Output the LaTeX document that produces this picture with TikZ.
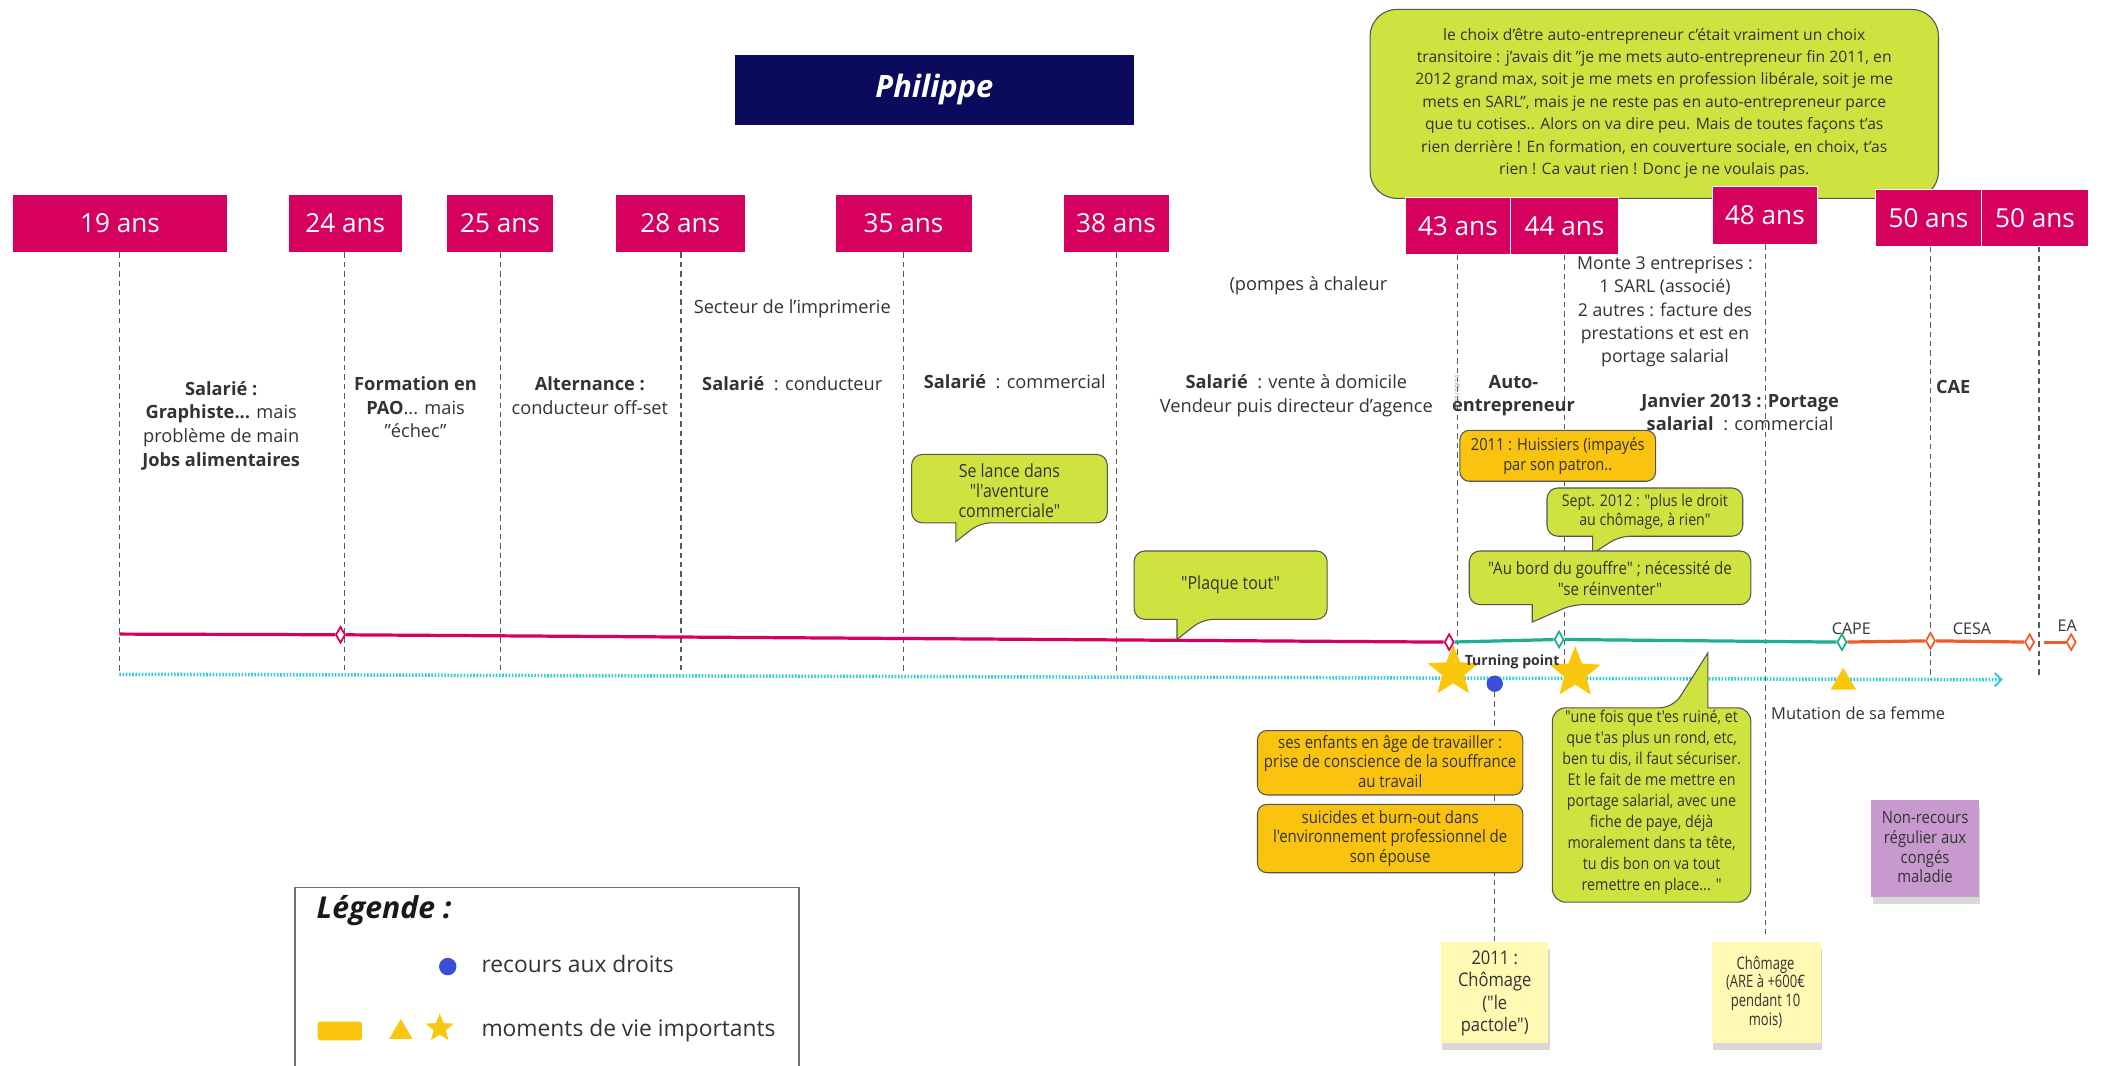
\documentclass[tikz,border=0pt]{standalone}
\usepackage{fontspec}
\setmainfont{Open Sans}
\newfontfamily\condA[FakeStretch=0.88]{Open Sans}
\newfontfamily\condB[FakeStretch=0.76]{Open Sans}
\usetikzlibrary{shapes.geometric,arrows.meta,shadows}
\definecolor{mag}{HTML}{D6005F}
\definecolor{navy}{HTML}{0B0B5E}
\definecolor{lime}{HTML}{CEE33F}
\definecolor{ambre}{HTML}{F9C310}
\definecolor{tealc}{HTML}{1DAF91}
\definecolor{redo}{HTML}{F25A2B}
\definecolor{cyanc}{HTML}{33CCD6}
\definecolor{stary}{HTML}{F9C80E}
\definecolor{bluec}{HTML}{3A4FD9}
\definecolor{postit}{HTML}{FFF9B3}
\definecolor{purp}{HTML}{C899CF}
\definecolor{txt}{HTML}{333333}
\definecolor{bord}{HTML}{555555}
\newcommand\callB[8]{% x1 y1 x2 y2 (y2 bottom) bL bR ax ay
  \filldraw[callout] (#7,#8) -- (#5,#4) -- (#5-1,#4) [rounded corners=8pt] -- (#1,#4) -- (#1,#2) -- (#3,#2) -- (#3,#4) -- (#6,#4) [sharp corners] -- cycle;}
\newcommand\callT[8]{% x1 y1 (top) x2 y2 bL bR ax ay
  \filldraw[callout] (#7,#8) -- (#6,#2) -- (#6+1,#2) [rounded corners=10pt] -- (#3,#2) -- (#3,#4) -- (#1,#4) -- (#1,#2) -- (#5,#2) [sharp corners] -- cycle;}
\begin{document}
\begin{tikzpicture}[x=1pt,y=-1pt,
  agebox/.style={fill=mag, draw=white, line width=0.6pt, text=white, minimum height=43pt, inner sep=0pt, font=\fontsize{19.5}{21}\selectfont},
  vline/.style={draw=black!65, line width=0.8pt, dash pattern=on 4pt off 3pt},
  lab/.style={text=txt, align=center, inner sep=0pt, font=\fontsize{13.6}{17.6}\selectfont},
  callout/.style={fill=lime, draw=bord, line width=0.8pt},
  ctext/.style={text=txt, align=center, inner sep=0pt},
  obox/.style={fill=ambre, draw=bord, line width=0.8pt, rounded corners=7pt},
  dia/.style={diamond, draw=#1, fill=white, line width=1.2pt, minimum width=7pt, minimum height=12pt, inner sep=0pt},
  tline/.style={line width=2.4pt, draw=#1},
  note/.style={draw=none, inner sep=0pt, drop shadow={shadow xshift=1pt, shadow yshift=-5pt, opacity=0.3}},
  staryel/.style={star, star points=5, star point ratio=2.3, fill=stary, inner sep=0pt},
  tri/.style={regular polygon, regular polygon sides=3, fill=stary, inner sep=0pt}
]
\clip (0,0) rectangle (1568,795);
\fill[white] (0,0) rectangle (1568,795);

% title
\node[fill=navy, minimum width=298pt, minimum height=52pt, inner sep=0pt, text=white, font=\fontsize{23}{26}\selectfont\bfseries\itshape] (title) at (697,67) {Philippe};

% top quote
\filldraw[callout, rounded corners=20pt] (1022,7) rectangle (1446,148);
\node[ctext, font=\fontsize{11.7}{16.7}\selectfont] (topq) at (1234,77) {le choix d'être auto-entrepreneur c'était vraiment un choix\\transitoire : j'avais dit "je me mets auto-entrepreneur fin 2011, en\\2012 grand max, soit je me mets en profession libérale, soit je me\\mets en SARL", mais je ne reste pas en auto-entrepreneur parce\\que tu cotises.. Alors on va dire peu. Mais de toutes façons t'as\\rien derrière ! En formation, en couverture sociale, en choix, t'as\\rien ! Ca vaut rien ! Donc je ne voulais pas.};

% age boxes
\node[agebox, minimum width=161pt] (a19) at (89.5,166.5) {19 ans};
\node[agebox, minimum width=85pt] (a24) at (257.5,166.5) {24 ans};
\node[agebox, minimum width=80pt] (a25) at (373,166.5) {25 ans};
\node[agebox, minimum width=97pt] (a28) at (507.5,166.5) {28 ans};
\node[agebox, minimum width=102pt] (a35) at (674,166.5) {35 ans};
\node[agebox, minimum width=79pt] (a38) at (832.5,166.5) {38 ans};
\node[agebox, minimum width=79pt] (a43) at (1087.5,168.5) {43 ans};
\node[agebox, minimum width=80pt] (a44) at (1167,168.5) {44 ans};
\node[agebox, minimum width=79pt] (a48) at (1316.5,160.5) {48 ans};
\node[agebox, minimum width=79pt] (a50) at (1438.5,162.5) {50 ans};
\node[agebox, minimum width=80pt] (a50b) at (1518,162.5) {50 ans};

% vertical dashed lines
\coordinate (e19) at (89,503);
\coordinate (e24) at (257,500);
\coordinate (e25) at (373,500);
\coordinate (e28) at (508,500);
\coordinate (e35) at (674,501);
\coordinate (e38) at (833,501);
\coordinate (e43) at (1087,510);
\coordinate (e44) at (1167,505);
\coordinate (e48) at (1317,697);
\coordinate (e50) at (1440,507);
\coordinate (e50b) at (1521,506);
\draw[vline] (a19.south -| e19) -- (e19);
\draw[vline] (a24.south -| e24) -- (e24);
\draw[vline] (a25.south -| e25) -- (e25);
\draw[vline] (a28.south -| e28) -- (e28);
\draw[vline] (a35.south -| e35) -- (e35);
\draw[vline] (a38.south -| e38) -- (e38);
\draw[vline] (a43.south -| e43) -- (e43);
\draw[vline] (a44.south -| e44) -- (e44);
\draw[vline] (a48.south -| e48) -- (e48);
\draw[vline] (a50.south -| e50) -- (e50);
\draw[vline] (a50b.south -| e50b) -- (e50b);

% post-its
\node[note, fill=postit, minimum width=80pt, minimum height=75pt] (p1) at (1115,740.5) {};
\node[ctext, font=\condA\fontsize{14}{16.7}\selectfont] (p1t) at (1115,741) {2011 :\\Chômage\\("le\\pactole")};
\node[note, fill=postit, minimum width=81pt, minimum height=75pt] (p2) at (1317.5,740.5) {};
\node[ctext, font=\condB\fontsize{12.8}{14}\selectfont] (p2t) at (1317,740) {Chômage\\(ARE à +600€\\pendant 10\\mois)};
\node[note, fill=purp, minimum width=80pt, minimum height=72pt] (p3) at (1436,633) {};
\node[ctext, font=\condA\fontsize{12.6}{14.7}\selectfont] (p3t) at (1436,632) {Non-recours\\régulier aux\\congés\\maladie};

% blue-dot dashed line
\node[circle, fill=bluec, minimum size=12pt, inner sep=0pt] (bdot) at (1115,510) {};
\draw[vline] (bdot.south) -- (p1.north);

% timeline
\coordinate (s0) at (89,473);
\node[dia=mag] (d1) at (254,473.5) {};
\node[dia=mag] (d2) at (1081,479) {};
\node[dia=tealc] (d3) at (1163,477) {};
\node[dia=tealc] (d4) at (1374,479) {};
\node[dia=redo] (d5) at (1440,478) {};
\node[dia=redo] (d6) at (1514,479) {};
\coordinate (s7) at (1525,479);
\node[dia=redo] (d7) at (1545,479) {};
\draw[tline=mag] (s0) -- (d1) -- (d2);
\draw[tline=tealc] (d2) -- (d3) -- (d4);
\draw[tline=redo] (d4) -- (d5) -- (d6);
\draw[tline=redo] (s7) -- (d7);
\node[dia=mag] at (d1) {};
\node[dia=mag] at (d2) {};
\node[dia=tealc] at (d3) {};
\node[dia=tealc] at (d4) {};
\node[dia=redo] at (d5) {};
\node[dia=redo] at (d6) {};
\node[dia=redo] at (d7) {};
\node[text=txt, inner sep=0pt, font=\fontsize{12}{13}\selectfont] (cape) at (1381,469) {CAPE};
\node[text=txt, inner sep=0pt, font=\fontsize{12}{13}\selectfont] (cesa) at (1471,469) {CESA};
\node[text=txt, inner sep=0pt, font=\fontsize{12}{13}\selectfont] (ea) at (1542,467) {EA};

% cyan dotted
\coordinate (c0) at (89,503);
\coordinate (c1) at (1494,507);
\draw[cyanc, line width=2.6pt, dash pattern=on 1.2pt off 1.2pt, -{Straight Barb[length=5pt,width=10pt,line width=1.5pt]}] (c0) -- (c1);

% stars, dot, triangle
\node[staryel, minimum size=40pt] (st1) at (1084,501) {};
\node[staryel, minimum size=40pt] (st2) at (1175,502) {};
\node[circle, fill=bluec, minimum size=12pt, inner sep=0pt] at (bdot) {};
\node[tri, minimum size=22pt] (tr1) at (1375,509) {};
\node[text=txt, inner sep=0pt, font=\fontsize{10.5}{12}\selectfont\bfseries] (tp) at (1128,494) {Turning point};
\node[text=txt, anchor=west, inner sep=0pt, font=\fontsize{12.3}{14}\selectfont] (mut) at (1321,532) {Mutation de sa femme};

% callouts
\callB{680}{339}{826}{390}{713}{731}{713}{404}
\node[ctext, font=\condA\fontsize{13.5}{15}\selectfont] (q1) at (753,366) {Se lance dans\\"l'aventure\\commerciale"};
\callB{846}{411}{990}{462}{878}{897}{878}{477}
\node[ctext, font=\condA\fontsize{13.5}{15}\selectfont] (q2) at (918,436) {"Plaque tout"};
\callB{1154}{364}{1300}{400}{1188}{1208}{1188}{413}
\node[ctext, font=\condA\fontsize{12}{14}\selectfont] (q3) at (1227,382) {Sept. 2012 : "plus le droit\\au chômage, à rien"};
\callB{1096}{411}{1306}{451}{1143}{1173}{1143}{464}
\node[ctext, font=\condA\fontsize{12.8}{15}\selectfont] (q4) at (1201,431.5) {"Au bord du gouffre" ; nécessité de\\"se réinventer"};
\callT{1158}{528}{1306}{673}{1248}{1274}{1274}{487}
\node[ctext, font=\condA\fontsize{12.1}{15.6}\selectfont] (q5) at (1232,598.5) {"une fois que t'es ruiné, et\\que t'as plus un rond, etc,\\ben tu dis, il faut sécuriser.\\Et le fait de me mettre en\\portage salarial, avec une\\fiche de paye, déjà\\moralement dans ta tête,\\tu dis bon on va tout\\remettre en place... "};

% orange boxes
\filldraw[obox] (1089,321) rectangle (1235,359);
\node[ctext, font=\condA\fontsize{12.4}{15}\selectfont] (o1) at (1162,340.5) {2011 : Huissiers (impayés\\par son patron..};
\filldraw[obox] (938,545) rectangle (1136,593);
\node[ctext, font=\condA\fontsize{12.7}{14.5}\selectfont] (o2) at (1037,568) {ses enfants en âge de travailler :\\prise de conscience de la souffrance\\au travail};
\filldraw[obox] (938,600) rectangle (1136,651);
\node[ctext, font=\condA\fontsize{12.7}{14.5}\selectfont] (o3) at (1037,625.5) {suicides et burn-out dans\\l'environnement professionnel de\\son épouse};

% labels
\node[lab] (l19) at (165,317.5) {\textbf{Salarié :}\\\textbf{Graphiste...} mais\\problème de main\\\textbf{Jobs alimentaires}};
\node[lab] (l24) at (310,304) {\textbf{Formation en}\\\textbf{PAO}... mais\\"échec"};
\node[lab] (l25) at (440,295) {\textbf{Alternance :}\\conducteur off-set};
\node[lab] (sect) at (591,230) {Secteur de l'imprimerie};
\node[lab] (l28) at (591,286) {\textbf{Salarié~} : conducteur};
\node[lab] (l35) at (757,285) {\textbf{Salarié~} : commercial};
\node[lab] (pomp) at (976,213) {(pompes à chaleur};
\node[lab] (l38) at (967,295) {\textbf{Salarié~} : vente à domicile\\Vendeur puis directeur d'agence};
\node[lab] (l43) at (1129,295) {\textbf{Auto-}\\\textbf{entrepreneur}};
\node[text=black!45, rotate=90, inner sep=0pt, font=\fontsize{5}{6}\selectfont] (date) at (1087,293) {2011/10/11};
\node[lab, font=\fontsize{13.2}{17.3}\selectfont] (l44) at (1242,232.5) {Monte 3 entreprises :\\1 SARL (associé)\\2 autres : facture des\\prestations et est en\\portage salarial};
\node[lab] (l48) at (1298,307.5) {\textbf{Janvier 2013 : Portage}\\\textbf{salarial~} : commercial};
\node[lab] (l50) at (1457,289) {\textbf{CAE}};

% legend
\draw[draw=black!55, line width=0.9pt, fill=white] (220,662) rectangle (596,805);
\node[anchor=west, text=black!90, inner sep=0pt, font=\fontsize{22.5}{26}\selectfont\bfseries\itshape] (legt) at (236,679) {Légende :};
\node[circle, fill=bluec, minimum size=13pt, inner sep=0pt] (lg1) at (334,721) {};
\node[anchor=west, text=txt, inner sep=0pt, font=\fontsize{17}{20}\selectfont] (lg1t) at (359,719) {recours aux droits};
\filldraw[fill=ambre, draw=none, rounded corners=2pt] (237,762) rectangle (270,776);
\node[tri, minimum size=20pt] (lg2) at (299,770) {};
\node[staryel, minimum size=22pt] (lg3) at (328,767) {};
\node[anchor=west, text=txt, inner sep=0pt, font=\fontsize{17}{20}\selectfont] (lg2t) at (359,769) {moments de vie importants};
\end{tikzpicture}
\end{document}
